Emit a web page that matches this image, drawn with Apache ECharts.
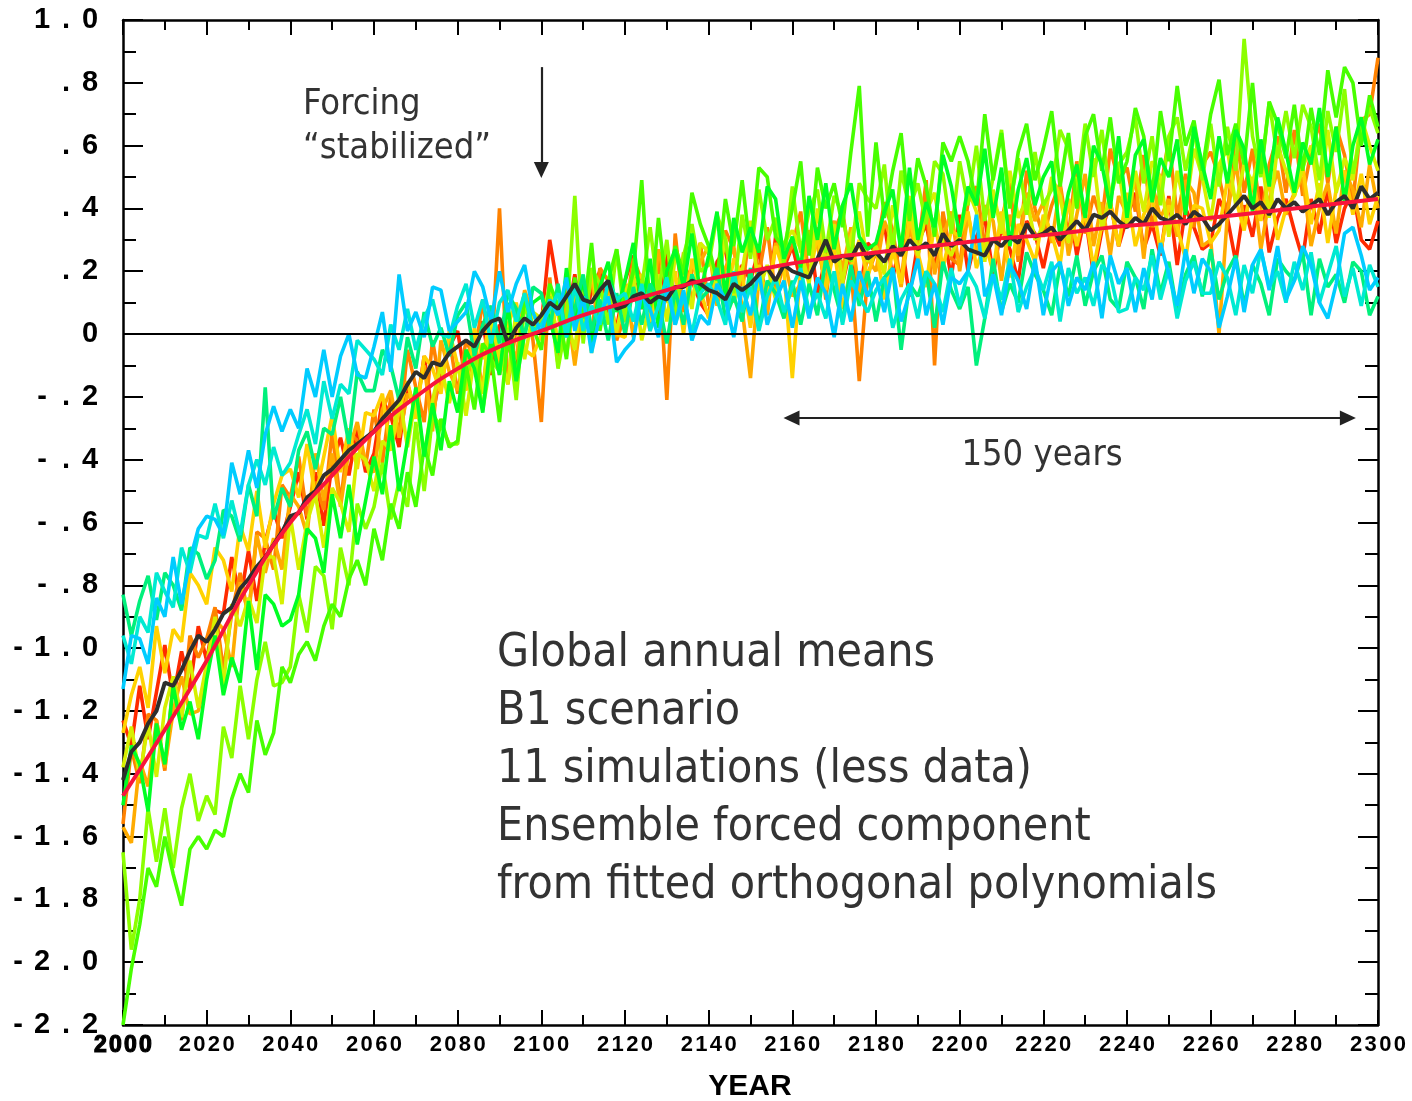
<!DOCTYPE html>
<html>
<head>
<meta charset="utf-8">
<script src="https://cdn.jsdelivr.net/npm/echarts/dist/echarts.min.js"></script>
<style>
  html, body { margin: 0; padding: 0; background: #ffffff; }
  #chart { width: 1412px; height: 1101px; }
</style>
</head>
<body>
<div id="chart"></div>
<script>
// Years sampled every 2 years for the individual runs, 2000..2300
const YEARS = Array.from({ length: 151 }, (_, i) => 2000 + 2 * i);
// Years of the fitted forced component (every 10 years)
const FIT_YEARS = Array.from({ length: 31 }, (_, i) => 2000 + 10 * i);

// Tick labels
const X_TICK_LABELS = ['2000','2020','2040','2060','2080','2100','2120','2140','2160','2180','2200','2220','2240','2260','2280','2300'];
const Y_TICK_VALUES = [1.0, 0.8, 0.6, 0.4, 0.2, 0, -0.2, -0.4, -0.6, -0.8, -1.0, -1.2, -1.4, -1.6, -1.8, -2.0, -2.2];
const Y_TICK_LABELS = ['1.0', '.8', '.6', '.4', '.2', '0', '-.2', '-.4', '-.6', '-.8', '-1.0', '-1.2', '-1.4', '-1.6', '-1.8', '-2.0', '-2.2'];

// Individual simulations (global annual mean anomaly), one row per 20 years
const sim01 = [
  -1.23,-1.31,-1.12,-1.29,-1.14,-0.99,-1.16,-1.01,-1.13,-0.93,
  -1.04,-0.88,-0.89,-0.71,-0.85,-0.69,-0.85,-0.66,-0.56,-0.65,
  -0.55,-0.44,-0.59,-0.44,-0.61,-0.41,-0.33,-0.45,-0.30,-0.44,
  -0.38,-0.21,-0.26,-0.36,-0.16,-0.25,-0.07,-0.26,-0.12,-0.04,
  0.01,-0.16,-0.04,0.04,-0.13,0.03,-0.03,-0.12,0.09,0.06,
  0.03,0.30,0.14,0.04,0.19,0.02,0.14,0.20,0.05,0.02,
  0.17,0.25,0.08,0.16,0.06,0.26,0.04,0.22,0.17,0.10,
  0.06,0.23,0.27,0.11,0.22,0.17,0.27,0.07,0.31,0.21,
  0.28,0.17,0.33,0.13,0.24,0.36,0.16,0.28,0.12,0.29,
  0.26,0.35,0.18,0.30,0.12,0.29,0.35,0.21,0.33,0.18,
  0.38,0.20,0.31,0.37,0.19,0.34,0.27,0.17,0.36,0.32,
  0.21,0.34,0.28,0.43,0.25,0.38,0.19,0.33,0.42,0.28,
  0.37,0.45,0.27,0.35,0.25,0.44,0.22,0.40,0.34,0.27,
  0.29,0.43,0.37,0.23,0.41,0.31,0.47,0.26,0.37,0.43,
  0.33,0.24,0.43,0.32,0.46,0.29,0.40,0.46,0.30,0.27,
  0.36];
const sim02 = [
  -1.56,-1.32,-1.43,-1.21,-1.23,-1.39,-1.11,-1.23,-0.96,-1.03,
  -0.97,-0.87,-1.07,-0.89,-0.76,-0.90,-0.63,-0.65,-0.75,-0.48,
  -0.52,-0.39,-0.58,-0.47,-0.56,-0.31,-0.54,-0.31,-0.34,-0.42,
  -0.24,-0.41,-0.20,-0.32,-0.05,-0.17,-0.28,-0.02,-0.18,-0.01,
  -0.19,-0.02,-0.08,0.11,-0.10,0.40,-0.16,0.02,0.13,-0.02,
  -0.28,0.18,-0.10,0.16,0.05,0.13,0.00,0.21,0.17,-0.02,
  0.06,0.24,0.17,0.01,0.24,-0.21,0.32,0.07,0.20,0.29,
  0.09,0.14,0.33,0.27,0.13,0.36,0.19,0.34,0.12,0.23,
  0.28,0.39,0.18,0.34,0.11,0.33,0.39,0.22,-0.15,0.19,
  0.26,0.42,0.33,0.16,0.41,0.26,0.49,-0.10,0.39,0.24,
  0.22,0.42,0.47,0.28,0.42,0.36,0.48,0.23,0.52,0.40,
  0.31,0.41,0.48,0.31,0.55,0.32,0.44,0.36,0.59,0.49,
  0.53,0.39,0.57,0.34,0.46,0.62,0.37,0.51,0.34,0.54,
  0.58,0.50,0.38,0.65,0.45,0.59,0.37,0.54,0.63,0.45,
  0.65,0.44,0.58,0.67,0.48,0.66,0.57,0.42,0.68,0.70,
  0.88];
const sim03 = [
  -1.57,-1.62,-1.36,-1.44,-1.23,-1.38,-1.20,-1.09,-1.21,-1.20,
  -1.09,-0.91,-0.94,-1.06,-0.79,-0.89,-0.64,-0.76,-0.65,-0.75,
  -0.51,-0.55,-0.64,-0.38,-0.53,-0.38,-0.55,-0.37,-0.28,-0.41,
  -0.44,-0.24,-0.18,-0.33,-0.19,-0.23,-0.10,-0.31,-0.02,-0.12,
  -0.18,-0.08,-0.01,-0.18,0.07,-0.13,-0.01,-0.08,0.14,0.06,
  0.04,0.15,-0.04,0.10,-0.10,0.10,0.17,0.02,0.16,-0.01,
  0.16,-0.01,0.16,0.04,0.27,0.15,0.04,0.26,0.10,0.23,
  0.28,0.09,0.21,0.28,0.08,-0.14,0.18,0.06,0.29,0.24,
  0.12,0.16,0.33,0.28,0.16,0.36,0.20,0.34,0.13,0.24,
  0.20,0.36,0.29,0.15,0.34,0.24,0.42,0.19,0.31,0.39,
  0.20,0.38,0.25,0.41,0.36,0.17,0.38,0.25,0.45,0.36,
  0.42,0.29,0.47,0.25,0.38,0.51,0.28,0.42,0.25,0.44,
  0.38,0.50,0.24,0.48,0.37,0.43,0.31,0.49,0.45,0.28,
  0.30,0.00,0.38,0.55,0.35,0.49,0.27,0.43,0.52,0.38,
  0.45,0.50,0.28,0.40,0.48,0.32,0.52,0.46,0.34,0.54,
  0.40];
const sim04 = [
  -1.27,-1.15,-1.06,-1.19,-0.93,-1.08,-0.94,-0.98,-0.76,-0.80,
  -0.86,-0.68,-0.72,-0.82,-0.61,-0.69,-0.50,-0.68,-0.54,-0.45,
  -0.43,-0.52,-0.35,-0.52,-0.39,-0.26,-0.44,-0.30,-0.43,-0.25,
  -0.26,-0.19,-0.37,-0.24,-0.15,-0.27,-0.07,-0.11,-0.19,0.01,
  -0.10,-0.18,0.02,-0.08,0.07,-0.10,0.03,0.10,-0.05,-0.07,
  0.00,0.13,0.06,-0.07,0.13,0.01,0.20,0.06,0.12,0.00,
  -0.01,0.16,0.19,0.04,0.15,0.10,0.20,0.00,0.24,0.14,
  0.05,0.21,0.09,0.24,0.19,0.02,0.22,0.11,0.28,0.20,
  -0.14,0.22,0.17,0.32,0.14,0.27,0.08,0.21,0.30,0.18,
  0.28,0.11,0.27,0.16,0.37,0.26,0.15,0.36,0.21,0.33,
  0.31,0.39,0.21,0.29,0.20,0.39,0.18,0.35,0.30,0.23,
  0.38,0.32,0.22,0.43,0.28,0.39,0.21,0.35,0.42,0.28,
  0.45,0.28,0.38,0.44,0.26,0.41,0.34,0.24,0.41,0.40,
  0.29,0.33,0.49,0.43,0.33,0.50,0.36,0.49,0.30,0.40,
  0.44,0.53,0.35,0.48,0.29,0.46,0.52,0.38,0.51,0.35,
  0.44];
const sim05 = [
  -1.38,-1.25,-1.41,-1.24,-1.41,-1.19,-1.09,-1.22,-1.04,-1.19,
  -1.05,-0.90,-1.12,-0.86,-0.93,-0.84,-0.92,-0.71,-0.71,-0.86,
  -0.58,-0.75,-0.60,-0.51,-0.68,-0.49,-0.54,-0.63,-0.38,-0.40,
  -0.50,-0.34,-0.37,-0.19,-0.36,-0.20,-0.39,-0.21,-0.10,-0.22,
  -0.09,-0.26,-0.07,-0.19,0.06,-0.06,-0.16,0.08,-0.08,0.07,
  0.05,0.15,-0.04,0.05,-0.05,0.17,-0.06,0.14,0.09,0.01,
  0.13,0.19,-0.02,0.10,0.19,0.04,0.25,0.20,0.08,0.29,
  0.26,0.14,0.31,0.10,0.20,0.36,0.14,0.22,0.11,0.29,
  0.33,0.27,0.16,0.40,0.22,0.35,0.16,0.31,0.39,0.23,
  0.28,0.19,0.41,0.28,0.44,0.25,0.39,0.45,0.29,0.25,
  0.32,0.46,0.39,0.23,0.46,0.32,0.52,0.37,0.43,0.30,
  0.34,0.50,0.44,0.29,0.50,0.38,0.56,0.33,0.45,0.53,
  0.34,0.52,0.39,0.55,0.50,0.31,0.52,0.39,0.59,0.50,
  0.36,0.54,0.59,0.41,0.54,0.48,0.59,0.37,0.60,0.52,
  0.44,0.53,0.60,0.42,0.65,0.45,0.56,0.49,0.69,0.60,
  0.52];
const sim06 = [
  -1.65,-1.96,-1.80,-1.51,-1.68,-1.51,-1.70,-1.51,-1.40,-1.55,
  -1.47,-1.53,-1.25,-1.35,-1.12,-1.29,-1.10,-0.98,-1.12,-1.11,
  -1.06,-0.83,-0.95,-0.74,-0.77,-0.94,-0.68,-0.80,-0.54,-0.62,
  -0.55,-0.41,-0.59,-0.47,-0.55,-0.28,-0.50,-0.26,-0.29,-0.35,
  -0.35,-0.13,-0.06,-0.24,-0.08,-0.12,0.02,-0.21,0.10,0.00,
  0.06,0.12,-0.11,0.04,0.44,-0.03,0.21,0.16,0.03,0.27,
  0.04,0.21,0.15,0.34,0.13,0.30,0.06,0.25,0.35,0.20,
  0.22,0.38,0.30,0.13,0.38,0.24,0.46,0.30,0.37,0.22,
  0.47,0.26,0.39,0.46,0.26,0.44,0.38,0.23,0.48,0.43,
  0.40,0.54,0.26,0.52,0.40,0.48,0.35,0.55,0.51,0.32,
  0.55,0.41,0.60,0.36,0.50,0.65,0.41,0.56,0.38,0.58,
  0.41,0.46,0.65,0.59,0.45,0.67,0.50,0.65,0.43,0.54,
  0.58,0.69,0.48,0.63,0.41,0.63,0.69,0.52,0.65,0.49,
  0.67,0.47,0.66,0.52,0.94,0.63,0.50,0.74,0.56,0.71,
  0.56,0.73,0.66,0.49,0.71,0.58,0.78,0.51,0.64,0.72,
  0.64];
const sim07 = [
  -2.20,-2.02,-1.88,-1.70,-1.76,-1.60,-1.72,-1.82,-1.64,-1.60,
  -1.64,-1.58,-1.60,-1.48,-1.40,-1.46,-1.23,-1.34,-1.27,-1.06,
  -1.11,-1.02,-0.98,-1.04,-0.93,-0.86,-0.90,-0.78,-0.72,-0.80,
  -0.62,-0.72,-0.54,-0.62,-0.44,-0.55,-0.36,-0.45,-0.27,-0.36,
  -0.34,-0.10,-0.24,-0.03,-0.07,-0.28,-0.01,-0.15,0.12,0.02,
  -0.05,0.16,0.09,-0.08,0.18,0.05,0.29,0.01,0.17,0.27,
  0.09,0.20,0.49,0.07,0.37,0.13,0.28,0.19,0.45,0.35,
  0.28,0.17,0.43,0.28,0.49,0.26,0.53,0.50,0.31,0.27,
  0.40,0.55,0.25,0.53,0.40,0.48,0.34,0.58,0.79,0.31,
  0.61,0.37,0.52,0.64,0.36,0.56,0.47,0.31,0.61,0.55,
  0.63,0.55,0.41,0.70,0.49,0.64,0.40,0.58,0.67,0.49,
  0.59,0.71,0.47,0.64,0.40,0.63,0.70,0.52,0.69,0.48,
  0.55,0.72,0.63,0.44,0.71,0.55,0.79,0.60,0.68,0.52,
  0.70,0.81,0.57,0.67,0.54,0.80,0.51,0.74,0.67,0.56,
  0.73,0.52,0.72,0.57,0.84,0.69,0.85,0.80,0.60,0.76,
  0.66];
const sim08 = [
  -1.50,-1.31,-1.37,-1.52,-1.24,-1.37,-1.12,-1.26,-1.17,-1.29,
  -1.10,-0.96,-1.15,-1.03,-1.11,-0.85,-1.07,-0.83,-0.86,-0.93,
  -0.91,-0.83,-0.62,-0.65,-0.76,-0.51,-0.65,-0.48,-0.67,-0.53,
  -0.39,-0.51,-0.29,-0.50,-0.34,-0.17,-0.39,-0.22,-0.37,-0.15,
  -0.25,-0.05,-0.11,-0.25,-0.01,-0.13,0.10,-0.15,0.00,0.10,
  0.12,0.05,-0.06,0.21,0.03,0.18,-0.03,0.15,0.23,0.07,
  0.17,0.29,0.08,0.24,0.02,0.20,0.27,0.15,0.32,0.13,
  0.25,0.39,0.11,0.37,0.26,0.34,0.26,0.47,0.43,0.24,
  0.31,0.21,0.44,0.30,0.48,0.27,0.41,0.48,0.31,0.27,
  0.29,0.39,0.46,0.26,0.53,0.30,0.42,0.34,0.57,0.47,
  0.31,0.47,0.41,0.59,0.37,0.53,0.28,0.46,0.56,0.41,
  0.50,0.55,0.31,0.45,0.54,0.37,0.60,0.54,0.40,0.63,
  0.37,0.57,0.62,0.42,0.56,0.50,0.62,0.38,0.66,0.54,
  0.43,0.63,0.48,0.65,0.59,0.39,0.62,0.47,0.69,0.58,
  0.45,0.61,0.54,0.72,0.50,0.66,0.42,0.60,0.69,0.54,
  0.62];
const sim09 = [
  -0.83,-0.96,-0.85,-0.77,-0.91,-0.76,-0.80,-0.88,-0.68,-0.70,
  -0.78,-0.72,-0.56,-0.58,-0.66,-0.48,-0.58,-0.17,-0.59,-0.49,
  -0.55,-0.37,-0.31,-0.43,-0.30,-0.32,-0.20,-0.35,-0.12,-0.18,
  -0.18,-0.05,-0.10,-0.21,-0.01,-0.11,0.07,-0.04,0.02,-0.07,
  0.06,0.10,-0.07,0.03,0.09,-0.03,0.13,0.08,-0.01,0.15,
  0.13,0.02,0.16,-0.01,0.08,0.19,0.01,0.11,-0.02,0.13,
  0.00,0.15,0.03,0.16,0.11,-0.03,0.14,0.03,0.19,0.11,
  0.14,0.21,0.05,0.12,0.04,0.21,0.02,0.17,0.13,0.05,
  0.17,0.03,0.16,0.06,0.24,0.14,0.04,0.22,0.09,0.20,
  0.04,0.18,0.21,-0.05,0.16,0.12,0.20,0.02,0.23,0.14,
  0.08,0.15,-0.10,0.05,0.24,0.07,0.16,0.10,0.26,0.19,
  0.14,0.06,0.22,0.12,0.25,0.09,0.20,0.25,0.11,0.08,
  0.23,0.18,0.08,0.27,0.13,0.23,0.07,0.19,0.25,0.12,
  0.27,0.11,0.20,0.25,0.09,0.22,0.16,0.06,0.24,0.20,
  0.17,0.26,0.06,0.24,0.15,0.19,0.10,0.23,0.20,0.06,
  0.12];
const sim10 = [
  -0.96,-1.05,-0.90,-0.95,-0.76,-0.82,-0.87,-0.68,-0.76,-0.64,
  -0.65,-0.54,-0.65,-0.53,-0.64,-0.48,-0.40,-0.48,-0.36,-0.45,
  -0.41,-0.32,-0.24,-0.35,-0.15,-0.27,-0.16,-0.19,-0.02,-0.05,
  -0.08,-0.13,0.03,-0.05,0.08,-0.05,0.05,0.11,0.00,-0.01,
  0.09,0.16,0.02,0.11,-0.03,0.10,0.14,0.04,0.13,0.01,
  0.03,0.08,0.13,-0.01,0.16,0.01,0.09,0.03,0.17,0.11,
  0.13,0.04,0.16,0.01,0.09,0.18,0.03,0.12,0.00,0.13,
  0.16,0.11,0.03,0.20,0.07,0.15,0.01,0.12,0.18,0.07,
  0.15,0.21,0.07,0.13,0.05,0.20,0.03,0.17,0.12,0.07,
  0.14,0.18,0.02,0.11,0.16,0.05,0.20,0.16,0.07,0.21,
  0.09,0.20,0.15,0.05,0.19,0.11,0.24,0.07,0.15,0.21,
  0.14,0.23,0.04,0.21,0.13,0.18,0.09,0.22,0.19,0.07,
  0.08,0.18,0.14,0.25,0.11,0.21,0.05,0.17,0.23,0.13,
  0.13,0.23,0.18,0.06,0.22,0.13,0.27,0.15,0.20,0.10,
  0.23,0.14,0.26,0.10,0.19,0.28,0.12,0.21,0.09,0.22,
  0.15];
const sim11 = [
  -1.13,-0.96,-0.97,-1.05,-0.84,-0.90,-0.71,-0.86,-0.72,-0.62,
  -0.58,-0.59,-0.64,-0.41,-0.51,-0.37,-0.49,-0.32,-0.23,-0.31,
  -0.24,-0.30,-0.11,-0.20,-0.05,-0.20,-0.07,0.00,-0.13,-0.14,
  -0.04,0.07,-0.12,0.19,0.01,0.07,-0.01,0.15,0.14,0.01,
  0.04,0.07,0.20,0.15,0.04,0.20,0.07,0.16,0.22,0.07,
  0.00,0.11,0.06,0.18,0.01,0.12,-0.06,0.06,0.12,-0.09,
  -0.05,-0.02,0.13,0.08,-0.01,0.15,0.03,0.14,-0.02,0.06,
  0.03,0.16,0.11,-0.01,0.15,0.06,0.20,0.03,0.11,0.17,
  0.02,0.17,0.05,0.18,0.13,-0.01,0.16,0.04,0.20,0.12,
  0.18,0.07,0.21,0.04,0.13,0.24,0.06,0.16,0.03,0.18,
  0.16,0.20,0.38,0.12,0.19,0.06,0.22,0.17,0.08,0.24,
  0.06,0.20,0.23,0.09,0.18,0.14,0.23,0.05,0.25,0.16,
  0.21,0.07,0.21,0.11,0.29,0.19,0.09,0.27,0.13,0.24,
  0.20,0.02,0.12,0.24,0.07,0.22,0.27,0.14,0.28,0.11,
  0.17,0.28,0.22,0.10,0.05,0.16,0.32,0.34,0.25,0.14,
  0.18];

// Ensemble mean of the runs
const ensembleMean = [
  -1.42,-1.33,-1.30,-1.24,-1.20,-1.11,-1.12,-1.07,-1.01,-0.96,
  -0.98,-0.94,-0.89,-0.87,-0.81,-0.78,-0.74,-0.71,-0.67,-0.63,
  -0.58,-0.57,-0.52,-0.50,-0.45,-0.43,-0.40,-0.37,-0.35,-0.33,
  -0.31,-0.27,-0.24,-0.21,-0.16,-0.12,-0.14,-0.09,-0.10,-0.06,
  -0.04,-0.02,-0.04,0.01,0.04,0.05,-0.03,0.02,0.05,0.03,
  0.06,0.10,0.08,0.12,0.16,0.11,0.10,0.14,0.17,0.08,
  0.09,0.12,0.13,0.10,0.12,0.11,0.15,0.15,0.17,0.16,
  0.14,0.13,0.11,0.16,0.14,0.16,0.19,0.21,0.17,0.22,
  0.20,0.19,0.18,0.24,0.30,0.23,0.25,0.24,0.29,0.24,
  0.26,0.23,0.28,0.25,0.30,0.27,0.29,0.25,0.32,0.28,
  0.30,0.27,0.26,0.25,0.30,0.28,0.31,0.29,0.35,0.31,
  0.32,0.34,0.30,0.33,0.36,0.33,0.38,0.37,0.39,0.36,
  0.34,0.37,0.35,0.40,0.37,0.36,0.38,0.35,0.39,0.37,
  0.33,0.35,0.38,0.41,0.44,0.40,0.42,0.38,0.43,0.40,
  0.42,0.39,0.41,0.43,0.38,0.42,0.44,0.40,0.47,0.43,
  0.45];

// Ensemble forced component (fitted orthogonal polynomials)
const forcedComponent = [-1.47,-1.26,-1.04,-0.80,-0.60,-0.45,-0.31,-0.20,-0.11,-0.04,
  0.01,0.06,0.10,0.14,0.175,0.20,0.225,0.245,0.26,0.275,
  0.29,0.305,0.315,0.33,0.345,0.355,0.37,0.385,0.40,0.415,
  0.43];

const RUNS = [sim01, sim02, sim03, sim04, sim05, sim06, sim07, sim08, sim09, sim10, sim11];
const RUN_COLORS = ['#ff2a00', '#ff8200', '#ffab00', '#ffd200', '#d6f000', '#8cff00',
                    '#48ff00', '#00ff24', '#00f07c', '#00ead2', '#00ccff'];

const pairs = (xs, ys) => ys.map((v, i) => [xs[i], v]);

const LABEL_FONT = '"Liberation Sans", Arial, Helvetica, sans-serif';
const TEXT_FONT = '"DejaVu Sans Condensed", "DejaVu Sans", Tahoma, sans-serif';

// Axis labels are laid out in fixed-width character cells
function cells(str, style) {
  return str.split('').map(ch => '{' + style + '|' + ch + '}').join('');
}
function xLabel(v) {
  const s = X_TICK_LABELS.find(l => Number(l) === Math.round(v));
  if (!s) return '';
  return cells(s, s === '2000' ? 'b' : 'c');
}
function yLabel(v) {
  const idx = Y_TICK_VALUES.findIndex(t => Math.abs(t - v) < 1e-6);
  if (idx < 0) return '';
  return cells(Y_TICK_LABELS[idx], 'c');
}

const tickLine = { color: '#000', width: 2 };
const frameLine = { color: '#000', width: 2.5 };

function xAxisDef(pos, labels) {
  return {
    type: 'value', min: 2000, max: 2300, interval: 20, position: pos,
    axisLine: { show: true, onZero: false, lineStyle: frameLine },
    axisTick: { show: true, inside: true, length: 15, lineStyle: tickLine },
    minorTick: { show: true, splitNumber: 2, length: 10, lineStyle: tickLine },
    splitLine: { show: false }, minorSplitLine: { show: false },
    axisLabel: labels ? {
      show: true, margin: 9, showMinLabel: true, showMaxLabel: true, formatter: xLabel,
      rich: {
        c: { width: 14.6, align: 'center', fontSize: 22, fontWeight: 'bold', fontFamily: LABEL_FONT, color: '#000' },
        b: { width: 15, align: 'center', fontSize: 23, fontWeight: 900, fontFamily: LABEL_FONT, color: '#000',
             textBorderColor: '#000', textBorderWidth: 1.2 }
      }
    } : { show: false }
  };
}
function yAxisDef(pos, labels) {
  return {
    type: 'value', min: -2.2, max: 1.0, interval: 0.2, position: pos,
    axisLine: { show: true, onZero: false, lineStyle: frameLine },
    axisTick: { show: true, inside: true, length: 20, lineStyle: tickLine },
    minorTick: { show: true, splitNumber: 2, length: 13, lineStyle: tickLine },
    splitLine: { show: false }, minorSplitLine: { show: false },
    axisLabel: labels ? {
      show: true, margin: 21, showMinLabel: true, showMaxLabel: true, formatter: yLabel,
      rich: { c: { width: 24, align: 'center', fontSize: 29, fontWeight: 'bold', fontFamily: LABEL_FONT, color: '#000' } }
    } : { show: false }
  };
}

const series = RUNS.map((vals, i) => ({
  name: 'run' + (i + 1),
  type: 'line',
  data: pairs(YEARS, vals),
  symbol: 'none',
  silent: true,
  lineStyle: { color: RUN_COLORS[i], width: 3.6 },
  z: 2
}));

// Zero reference line, with the annotation arrows
series.push({
  name: 'zero',
  type: 'line',
  data: [[2000, 0], [2300, 0]],
  symbol: 'none',
  silent: true,
  lineStyle: { color: '#000', width: 2 },
  z: 3,
  markLine: {
    silent: true,
    symbolSize: [15, 16],
    lineStyle: { color: '#222', width: 2.2, type: 'solid' },
    label: { show: false },
    data: [
      [{ coord: [2100, 0.85], symbol: 'none' }, { coord: [2100, 0.522], symbol: 'triangle' }],
      [{ coord: [2159.8, -0.2675], symbol: 'triangle' }, { coord: [2292.8, -0.2675], symbol: 'triangle' }]
    ]
  }
});

series.push({
  name: 'ensemble mean',
  type: 'line',
  data: pairs(YEARS, ensembleMean),
  symbol: 'none',
  silent: true,
  lineStyle: { color: '#2e2e2e', width: 4 },
  z: 4
});
series.push({
  name: 'forced component',
  type: 'line',
  data: pairs(FIT_YEARS, forcedComponent),
  symbol: 'none',
  smooth: true,
  silent: true,
  lineStyle: { color: '#f8143c', width: 4 },
  z: 5
});

const chart = echarts.init(document.getElementById('chart'), null, { renderer: 'canvas' });
chart.setOption({
  animation: false,
  backgroundColor: '#ffffff',
  grid: { left: 123, right: 34, top: 20, bottom: 76, outerBoundsMode: 'none', containLabel: false },
  xAxis: [xAxisDef('bottom', true), xAxisDef('top', false)],
  yAxis: [yAxisDef('left', true), yAxisDef('right', false)],
  series: series,
  graphic: [
    { type: 'text', left: 303, top: 83, silent: true,
      style: { text: 'Forcing\n\u201cstabilized\u201d', fontSize: 36, fontFamily: TEXT_FONT, fill: '#333', lineHeight: 44 } },
    { type: 'text', x: 1042, y: 456, silent: true,
      style: { text: '150 years', fontSize: 36, fontFamily: TEXT_FONT, fill: '#333', align: 'center', verticalAlign: 'middle' } },
    { type: 'text', left: 497, top: 625, silent: true,
      style: { text: 'Global annual means\nB1 scenario\n11 simulations (less data)\nEnsemble forced component\nfrom fitted orthogonal polynomials',
               fontSize: 46, fontFamily: TEXT_FONT, fill: '#333', lineHeight: 58 } },
    { type: 'text', x: 750, y: 1087, silent: true,
      style: { text: 'YEAR', fontSize: 30, fontWeight: 'bold', fontFamily: LABEL_FONT, fill: '#000', align: 'center', verticalAlign: 'middle' } }
  ]
});
</script>
</body>
</html>
